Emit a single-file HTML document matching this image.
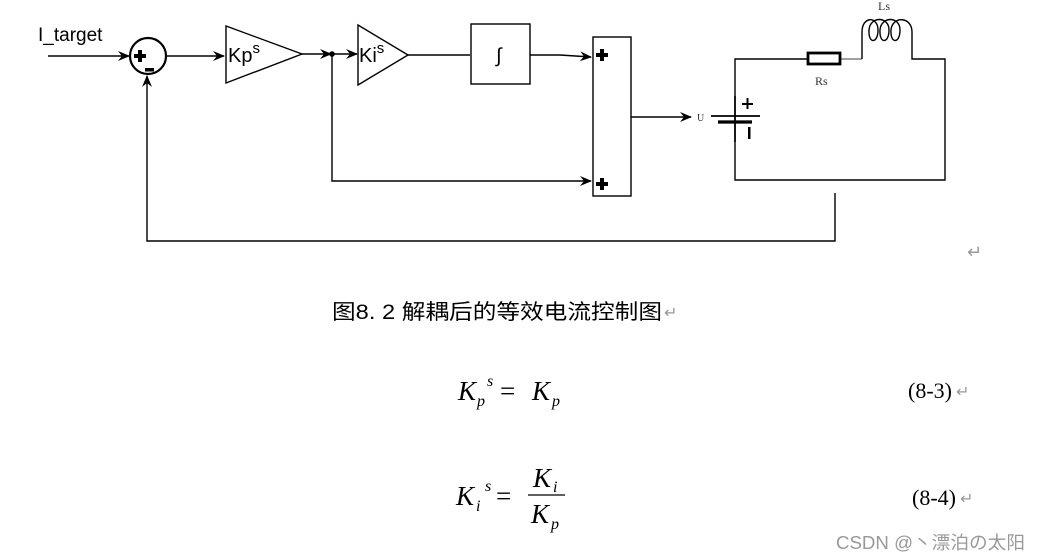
<!DOCTYPE html>
<html><head><meta charset="utf-8"><style>
html,body{margin:0;padding:0;background:#fff;}
svg{display:block;}
</style></head><body>
<svg width="1039" height="560" viewBox="0 0 1039 560" xmlns="http://www.w3.org/2000/svg">
<defs>
<marker id="a" markerWidth="12" markerHeight="10" refX="11" refY="5" orient="auto" markerUnits="userSpaceOnUse">
<path d="M0,0 L12,5 L0,10 L4,5 Z" fill="#000"/></marker>
</defs>
<g stroke="#000" stroke-width="1.4" fill="none">
<line x1="48" y1="56" x2="129" y2="56" marker-end="url(#a)"/>
<circle cx="148" cy="56" r="18" stroke-width="2.2"/>
<line x1="166" y1="56" x2="224" y2="56" marker-end="url(#a)"/>
<polygon points="226,26 226,83 302,54" fill="#fff"/>
<line x1="302" y1="54" x2="331" y2="54" marker-end="url(#a)"/>
<line x1="332" y1="54" x2="357" y2="54" marker-end="url(#a)"/>
<polygon points="358,25 358,85 408,55" fill="#fff"/>
<line x1="408" y1="55" x2="470" y2="55"/>
<rect x="471" y="24" width="59" height="60"/>
<polyline points="530,55 560,55 591,57" marker-end="url(#a)"/>
<rect x="593" y="37" width="38" height="159"/>
<polyline points="332,54 332,181 591,181" marker-end="url(#a)"/>
<line x1="631" y1="117" x2="691" y2="117" marker-end="url(#a)"/>
<polyline points="735,96 735,59 808,59"/>
<line x1="840" y1="59" x2="862" y2="59" stroke-width="0.8"/>
<polyline points="862,59 862,32"/>
<path d="M862,32 C862,16 878,16 878,30 C878,44 868,44 869,30 C870,16 889,16 889,30 C889,44 879,44 880,30 C881,16 900,16 900,30 C900,44 890,44 891,30 C892,16 912,16 912,32"/>
<polyline points="912,32 912,59 945,59 945,180 735,180 735,142"/>
<rect x="808" y="53" width="32" height="11" stroke-width="2.8"/>
<line x1="735" y1="96" x2="735" y2="142" stroke-width="1.8"/>
<line x1="711" y1="116" x2="760" y2="116" stroke-width="1.8"/>
<line x1="718" y1="122" x2="752" y2="122" stroke-width="3.2"/>
<polyline points="835,193 835,241 147,241 147,76" marker-end="url(#a)"/>
</g>
<circle cx="332" cy="54" r="2.8" fill="#000"/>
<g fill="#000">
<rect x="134" y="54" width="12" height="4"/><rect x="138" y="50" width="4" height="12"/>
<rect x="145" y="68" width="9" height="3.5"/>
<rect x="596" y="53" width="12" height="4"/><rect x="600" y="49" width="4" height="12"/>
<rect x="596" y="182" width="12" height="4"/><rect x="600" y="178" width="4" height="12"/>
<rect x="742" y="103" width="11" height="2"/><rect x="746.5" y="98" width="2" height="11"/>
<rect x="748" y="127" width="2.5" height="12"/>
</g>
<g font-family="Liberation Sans, sans-serif" fill="#000">
<text x="38" y="41" font-size="19">I_target</text>
<text x="228" y="62" font-size="20">Kp<tspan dy="-9" font-size="15">s</tspan></text>
<text x="359" y="62" font-size="20">Ki<tspan dy="-9" font-size="15">s</tspan></text>
<text x="496" y="62" font-size="20">∫</text>
</g>
<g font-family="Liberation Serif, serif" fill="#333">
<text x="697" y="121" font-size="10">U</text>
<text x="815" y="85" font-size="12">Rs</text>
<text x="878" y="10" font-size="12">Ls</text>
</g>
<text x="967" y="258" font-size="18" fill="#999" font-family="DejaVu Sans, sans-serif">↵</text>
<text x="332" y="319" font-size="21" font-family="Liberation Sans, 'Noto Sans CJK SC', sans-serif" textLength="330" lengthAdjust="spacingAndGlyphs">图8. 2  解耦后的等效电流控制图</text>
<text x="664" y="318" fill="#999" font-size="16" font-family="DejaVu Sans, sans-serif">↵</text>
<g font-family="Liberation Serif, serif" font-style="italic" fill="#000">
<text x="458" y="400" font-size="27">K</text><text x="477" y="406" font-size="16">p</text><text x="487" y="386" font-size="16">s</text>
<text x="500" y="400" font-size="27" font-style="normal">=</text>
<text x="532" y="400" font-size="27">K</text><text x="552" y="406" font-size="16">p</text>
<text x="456" y="505" font-size="27">K</text><text x="476" y="511" font-size="16">i</text><text x="485" y="491" font-size="16">s</text>
<text x="496" y="505" font-size="27" font-style="normal">=</text>
<text x="533" y="487" font-size="27">K</text><text x="553" y="492" font-size="16">i</text>
<text x="531" y="523" font-size="27">K</text><text x="551" y="529" font-size="16">p</text>
</g>
<line x1="528" y1="495" x2="565" y2="495" stroke="#000" stroke-width="1.2"/>
<text x="908" y="398" font-size="22" font-family="Liberation Serif, serif">(8-3)</text>
<text x="956" y="397" fill="#999" font-size="16" font-family="DejaVu Sans, sans-serif">↵</text>
<text x="912" y="505" font-size="22" font-family="Liberation Serif, serif">(8-4)</text>
<text x="960" y="504" fill="#999" font-size="16" font-family="DejaVu Sans, sans-serif">↵</text>
<text x="836" y="549" font-size="18" fill="#999" font-family="Liberation Sans, 'Noto Sans CJK SC', sans-serif" textLength="189" lengthAdjust="spacingAndGlyphs">CSDN @丶漂泊の太阳</text>
</svg>
</body></html>
